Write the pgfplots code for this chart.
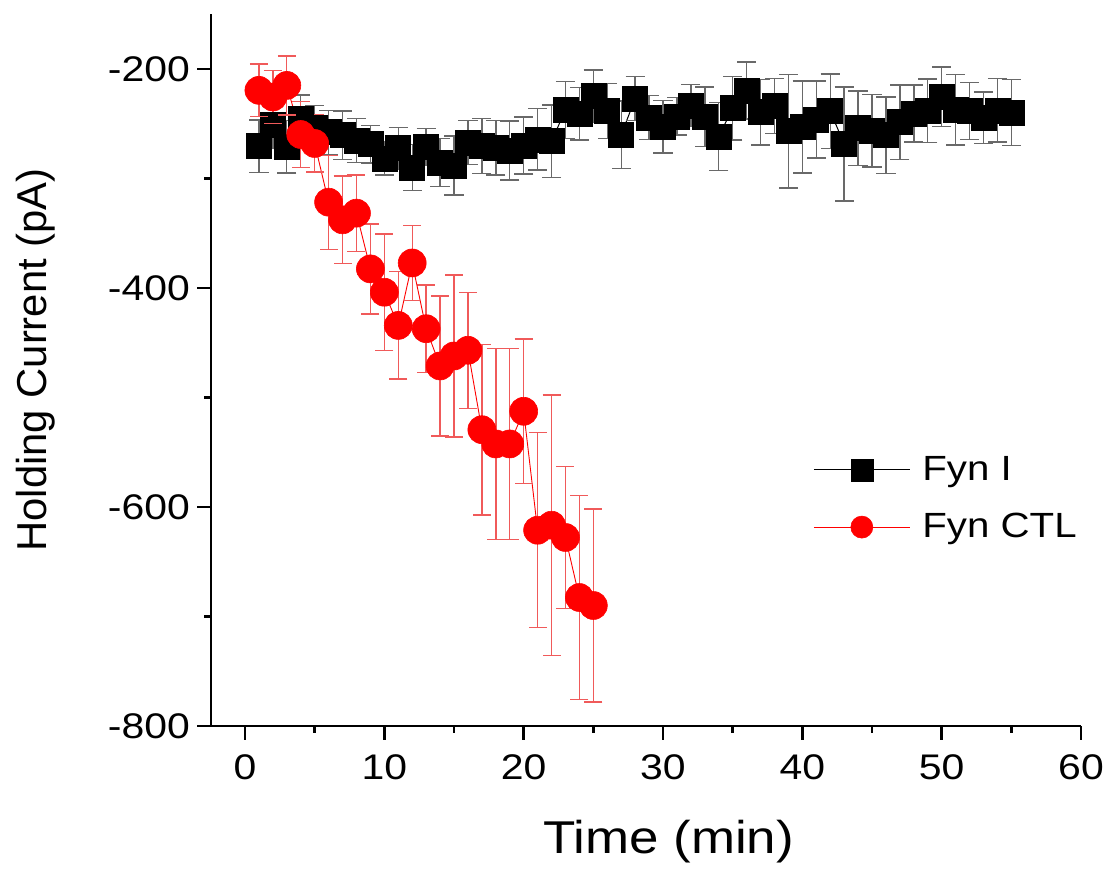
\documentclass[border=0pt]{standalone}
\usepackage{fontspec}
\setmainfont{Liberation Sans}[FakeStretch=1.15]
\newfontfamily\ylfont{Liberation Sans}
\usepackage{pgfplots}
\pgfplotsset{compat=1.18}
\usepackage{pgfplotstable}

\definecolor{errgray}{RGB}{105,105,105}
\definecolor{errred}{RGB}{240,90,90}

% time (min), holding current (pA), SEM
\pgfplotstableread{
t v e
1 -270.6 24
2 -250.7 22
3 -271.0 24
4 -246.0 22
5 -253.8 20
6 -258.0 20
7 -260.6 22
8 -265.6 20
9 -268.9 17
10 -281.8 15
11 -272.5 19
12 -290.0 21
13 -271.4 17
14 -285.6 22
15 -288.4 27
16 -267.5 20
17 -270.5 25
18 -272.0 25
19 -274.7 27
20 -269.9 26
21 -264.4 28
22 -266.2 33
23 -237.5 26
24 -241.0 24
25 -225.0 24
26 -238.5 25
27 -260.3 31
28 -227.3 20
29 -244.6 20
30 -253.0 24
31 -243.4 17
32 -233.4 19
33 -243.7 27
34 -261.8 31
35 -235.9 29
36 -219.7 26
37 -239.7 30
38 -234.0 25
39 -257.0 52
40 -253.0 42
41 -246.3 35
42 -238.6 34
43 -268.7 52
44 -254.3 34
45 -256.7 33
46 -260.6 35
47 -248.8 34
48 -240.9 26
49 -238.5 29
50 -225.5 27
51 -237.5 32
52 -238.5 26
53 -244.7 23.5
54 -238.0 29
55 -240.0 30
}\fynI

\pgfplotstableread{
t v e
1 -219.7 24
2 -225.8 24
3 -215.2 27
4 -260.0 30
5 -268.2 26
6 -321.8 43
7 -337.9 40
8 -331.8 35
9 -382.7 41
10 -404.0 53
11 -434.3 49
12 -377.3 34
13 -437.3 40
14 -471.3 64
15 -462.2 74
16 -457.0 53
17 -529.5 78
18 -542.5 87
19 -542.5 87
20 -512.7 66
21 -621.3 89
22 -616.7 119
23 -627.9 65
24 -682.7 93
25 -690.0 88
}\fynCTL

\begin{document}
\begin{tikzpicture}
\path[use as bounding box] (0,0) rectangle (554pt,436pt);
\begin{axis}[
  at={(105.5pt,73pt)}, anchor=south west,
  scale only axis, width=435pt, height=356pt,
  xmin=-2.44, xmax=60, ymin=-800, ymax=-150,
  axis x line*=bottom, axis y line*=left,
  axis line style={line width=1.2pt, -},
  xtick={0,10,...,60}, minor x tick num=1,
  ytick={-800,-600,-400,-200}, minor y tick num=1,
  tick align=outside,
  major tick length=7pt, minor tick length=3.5pt,
  every tick/.style={black, line width=1.2pt},
  /pgf/number format/assume math mode=true,
  tick label style={font=\fontsize{17.8}{20}\selectfont},
  xticklabel style={yshift=-4pt},
  xlabel={Time (min)},
  ylabel={\ylfont Holding Current (pA)},
  xlabel style={font=\fontsize{23}{26}\selectfont, at={(axis description cs:0.526,-0.179)}, anchor=base},
  ylabel style={font=\fontsize{20.9}{24}\selectfont, at={(axis description cs:-0.1885,0.514)}, anchor=base},
  legend cell align=left,
  legend style={font=\fontsize{17.5}{20}\selectfont, draw=none, fill=none,
    at={(axis description cs:0.685,0.385)}, anchor=north west, row sep=15pt,
    nodes={inner xsep=6pt, inner ysep=0pt}},
  legend image code/.code={
    \draw[mark repeat=2,mark phase=2, mark size=5.5pt] plot coordinates {(0pt,0pt)(24pt,0pt)(48pt,0pt)};},
]
% Fyn I: bars from mean-SEM up to mean+SEM, cap at the lower end as a mark
\addplot[forget plot, draw=none, mark=none,
  error bars/.cd, y dir=plus, y explicit,
  error bar style={draw=errgray, line width=0.7pt},
  error mark options={draw=errgray, rotate=90, mark size=4.8pt, line width=0.7pt}]
  table[x=t, y expr=\thisrow{v}-\thisrow{e}, y error expr=2*\thisrow{e}] {\fynI};
\addplot[forget plot, only marks, mark=-, mark size=4.8pt,
  mark options={draw=errgray, line width=0.7pt}]
  table[x=t, y expr=\thisrow{v}-\thisrow{e}] {\fynI};
\addplot[black, line width=0.5pt, mark=square*, mark size=6.25pt,
  mark options={solid, fill=black, draw=black, line width=0.3pt}]
  table[x=t, y=v] {\fynI};
\addlegendentry{Fyn I}
% Fyn CTL
\addplot[forget plot, draw=none, mark=none,
  error bars/.cd, y dir=plus, y explicit,
  error bar style={draw=errred, line width=0.7pt},
  error mark options={draw=errred, rotate=90, mark size=4.5pt, line width=0.7pt}]
  table[x=t, y expr=\thisrow{v}-\thisrow{e}, y error expr=2*\thisrow{e}] {\fynCTL};
\addplot[forget plot, only marks, mark=-, mark size=4.5pt,
  mark options={draw=errred, line width=0.7pt}]
  table[x=t, y expr=\thisrow{v}-\thisrow{e}] {\fynCTL};
\addplot[red, line width=0.45pt, mark=*, mark size=7pt,
  mark options={solid, fill=red, draw=red, line width=0.3pt}]
  table[x=t, y=v] {\fynCTL};
\addlegendentry{Fyn CTL}
\end{axis}
\end{tikzpicture}
\end{document}
